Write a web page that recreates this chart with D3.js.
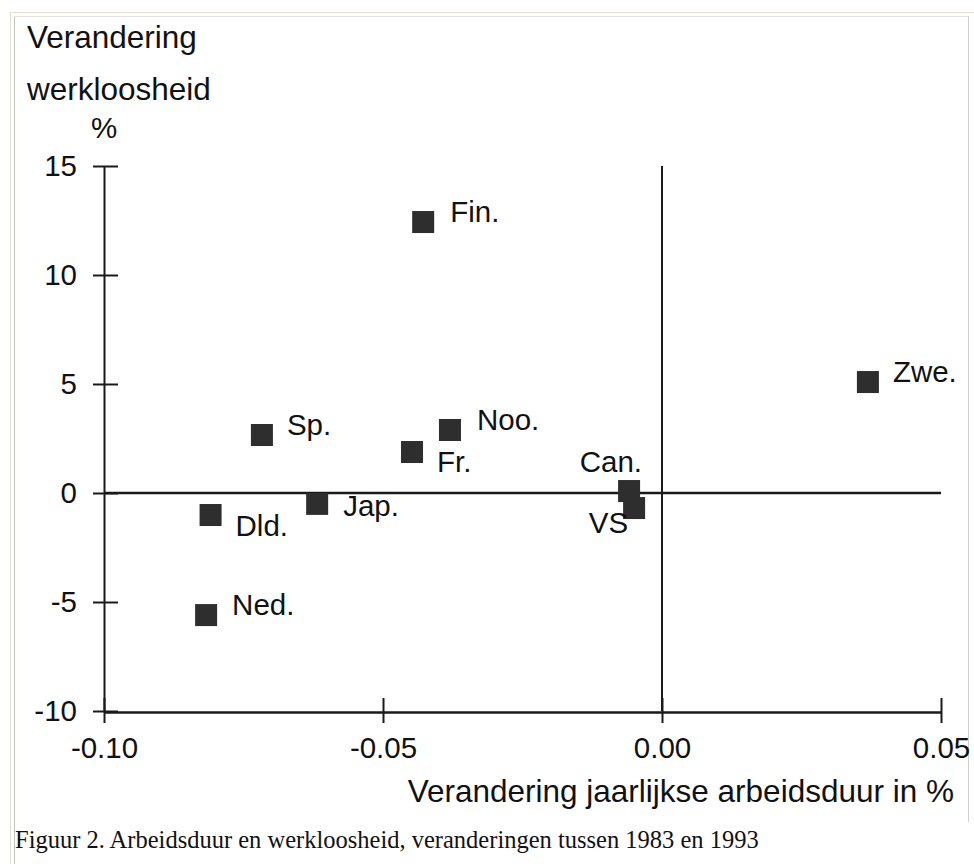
<!DOCTYPE html>
<html lang="nl">
<head>
    <meta charset="UTF-8">
    <script src="https://cdn.jsdelivr.net/npm/d3@7"></script>
    <title>Arbeidsduur en werkloosheid</title>
    <style>
        body { margin: 0; background: #fff; }
        svg text { font-family: "Liberation Sans", Arial, Helvetica, sans-serif; fill: #111; }
        .caption { font-family: "Liberation Serif", "Times New Roman", serif; }
    </style>
</head>
<body>
<script>
// landen, verandering arbeidsduur (%) en verandering werkloosheid (%)
let countries = ["Fin.", "Zwe.", "Sp.", "Noo.", "Fr.", "Jap.", "Dld.", "Ned.", "Can.", "VS"]
let hoursChange = [-0.0428, 0.0369, -0.0717, -0.0380, -0.0448, -0.0618, -0.0809, -0.0817, -0.0059, -0.0050]
let unemploymentChange = [12.43, 5.09, 2.66, 2.89, 1.88, -0.50, -1.01, -5.60, 0.09, -0.69]
let xTicks = [-0.10, -0.05, 0.00, 0.05]
let yTicks = [-10, -5, 0, 5, 10, 15]

// label placement per country: [dx, dy, anchor]
let labelPos = {
    "Fin.": [27, 0, "start"], "Zwe.": [25, 0, "start"], "Sp.": [25, 0, "start"],
    "Noo.": [27, 0, "start"], "Fr.": [25, 20, "start"], "Jap.": [26, 12, "start"],
    "Dld.": [25, 21, "start"], "Ned.": [26, 0, "start"], "Can.": [13, -19, "end"],
    "VS": [-6, 25, "end"]
}

let width = 974
let height = 864
let fontSize = 29.5
let titleSize = 31.5

let svg = d3.select("body").append("svg")
    .attr("width", width)
    .attr("height", height)

// frame
svg.append("line").attr("x1", 10.5).attr("x2", 10.5).attr("y1", 12).attr("y2", height)
    .attr("stroke", "#e4e0cc").attr("stroke-width", 1)
svg.append("line").attr("x1", 10).attr("x2", width).attr("y1", 12.5).attr("y2", 12.5)
    .attr("stroke", "#e4e0cc").attr("stroke-width", 1)
svg.append("line").attr("x1", 14.5).attr("x2", 14.5).attr("y1", 16).attr("y2", height)
    .attr("stroke", "#c4c4c4").attr("stroke-width", 1)
svg.append("line").attr("x1", 14).attr("x2", 968).attr("y1", 16.5).attr("y2", 16.5)
    .attr("stroke", "#e2e2e2").attr("stroke-width", 1)
svg.append("line").attr("x1", 968.5).attr("x2", 968.5).attr("y1", 16).attr("y2", 822)
    .attr("stroke", "#d0d0d0").attr("stroke-width", 1)

let x = d3.scaleLinear().domain([-0.10, 0.05]).range([104, 941])
let y = d3.scaleLinear().domain([-10, 15]).range([711, 166])

let hyphen = f => (d => f(d).replace("\u2212", "-"))

// y axis
let yAxis = svg.append("g")
    .attr("transform", "translate(104,0)")
    .call(d3.axisLeft(y).tickValues(yTicks).tickSize(11).tickSizeOuter(0).tickPadding(16)
        .tickFormat(hyphen(d3.format("d"))))
yAxis.selectAll(".tick line").attr("x1", 14).attr("stroke", "#1a1a1a").attr("stroke-width", 2)
yAxis.select(".domain").attr("stroke", "#1a1a1a").attr("stroke-width", 2)
yAxis.selectAll("text").attr("font-size", fontSize)
yAxis.attr("font-family", null)

// x axis
let xAxis = svg.append("g")
    .attr("transform", "translate(0,712)")
    .call(d3.axisBottom(x).tickValues(xTicks).tickSize(11).tickSizeOuter(0).tickPadding(14)
        .tickFormat(hyphen(d3.format(".2f"))))
xAxis.selectAll(".tick line").attr("y1", -14).attr("stroke", "#1a1a1a").attr("stroke-width", 2)
xAxis.select(".domain").attr("stroke", "#1a1a1a").attr("stroke-width", 2.5)
xAxis.selectAll("text").attr("font-size", fontSize)
xAxis.attr("font-family", null)

// zero lines
svg.append("line")
    .attr("x1", x(-0.10)).attr("x2", x(0.05)).attr("y1", y(0)).attr("y2", y(0))
    .attr("stroke", "#1a1a1a").attr("stroke-width", 2.5)
svg.append("line")
    .attr("x1", x(0)).attr("x2", x(0)).attr("y1", y(15)).attr("y2", y(-10))
    .attr("stroke", "#1a1a1a").attr("stroke-width", 2)

// axis titles
svg.append("text").attr("x", 27).attr("y", 48).attr("font-size", titleSize).text("Verandering")
svg.append("text").attr("x", 27).attr("y", 100).attr("font-size", titleSize).text("werkloosheid")
svg.append("text").attr("x", 104).attr("y", 138).attr("font-size", fontSize)
    .attr("text-anchor", "middle").text("%")
svg.append("text").attr("x", 954).attr("y", 802).attr("font-size", titleSize)
    .attr("text-anchor", "end").text("Verandering jaarlijkse arbeidsduur in %")

// points
let data = countries.map((c, i) => ({ name: c, hx: hoursChange[i], wy: unemploymentChange[i] }))
let size = 22

svg.append("g").selectAll("rect")
    .data(data)
    .join("rect")
    .attr("x", d => x(d.hx) - size / 2)
    .attr("y", d => y(d.wy) - size / 2)
    .attr("width", size)
    .attr("height", size)
    .attr("fill", "#2e2e2e")

svg.append("g").selectAll("text")
    .data(data)
    .join("text")
    .attr("x", d => x(d.hx) + labelPos[d.name][0])
    .attr("y", d => y(d.wy) + labelPos[d.name][1])
    .attr("text-anchor", d => labelPos[d.name][2])
    .attr("font-size", fontSize)
    .text(d => d.name)

// caption
svg.append("text").attr("class", "caption")
    .attr("x", 15).attr("y", 848).attr("font-size", 24.5)
    .text("Figuur 2. Arbeidsduur en werkloosheid, veranderingen tussen 1983 en 1993")
</script>
</body>
</html>
